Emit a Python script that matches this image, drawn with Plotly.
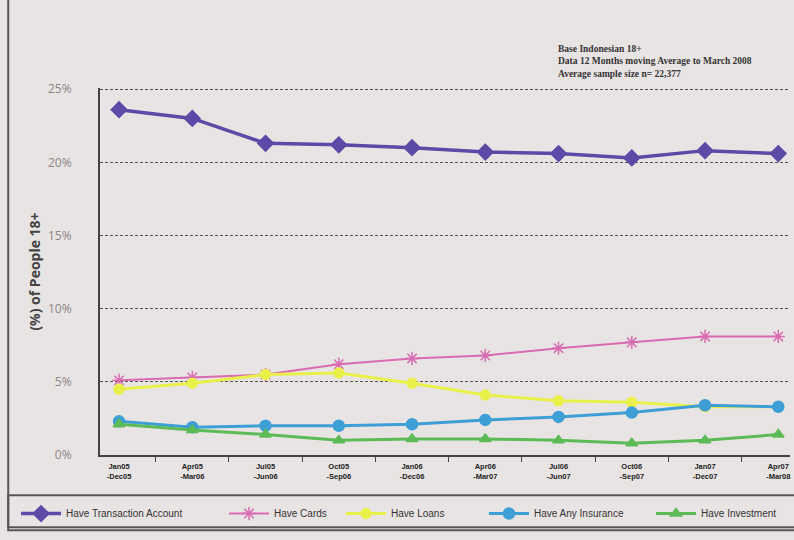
import plotly.graph_objects as go

periods = ["Jan05<br>-Dec05", "Apr05<br>-Mar06", "Jul05<br>-Jun06", "Oct05<br>-Sep06",
           "Jan06<br>-Dec06", "Apr06<br>-Mar07", "Jul06<br>-Jun07", "Oct06<br>-Sep07",
           "Jan07<br>-Dec07", "Apr07<br>-Mar08"]
transaction = [23.6, 23.0, 21.3, 21.2, 21.0, 20.7, 20.6, 20.3, 20.8, 20.6]
cards = [5.1, 5.3, 5.5, 6.2, 6.6, 6.8, 7.3, 7.7, 8.1, 8.1]
loans = [4.5, 4.9, 5.5, 5.6, 4.9, 4.1, 3.7, 3.6, 3.3, 3.3]
insurance = [2.3, 1.9, 2.0, 2.0, 2.1, 2.4, 2.6, 2.9, 3.4, 3.3]
investment = [2.1, 1.7, 1.4, 1.0, 1.1, 1.1, 1.0, 0.8, 1.0, 1.4]
y_ticks = [0, 5, 10, 15, 20, 25]
y_labels = ["0%", "5%", "10%", "15%", "20%", "25%"]

bg = "#e9e4e4"
fig = go.Figure()

series = [
    ("Have Transaction Account", transaction, "#5b4aa6", "diamond", 12, 3.5),
    ("Have Cards", cards, "#d86bb2", "asterisk-open", 11, 2),
    ("Have Loans", loans, "#eaf04a", "circle", 10, 3),
    ("Have Any Insurance", insurance, "#3d9fd6", "circle", 11, 3),
    ("Have Investment", investment, "#5dbb57", "triangle-up", 10, 3),
]
legend_ids = ["legend", "legend2", "legend3", "legend4", "legend5"]
legend_x = [-0.1217, 0.1797, 0.3493, 0.5565, 0.7986]

for (name, vals, col, sym, size, w), lid in zip(series, legend_ids):
    fig.add_trace(go.Scatter(
        x=periods, y=vals, name=name, mode="lines+markers", legend=lid,
        line=dict(color=col, width=w),
        marker=dict(symbol=sym, size=size, color=col, line=dict(color=col, width=1.5)),
    ))

legend_font = dict(family="Liberation Sans Narrow, Liberation Sans, Arial", size=10, color="#333")
legend_layout = {}
for lid, lx in zip(legend_ids, legend_x):
    legend_layout[lid] = dict(x=lx, xanchor="left", y=-0.120, yanchor="top",
                              orientation="h", font=legend_font,
                              bgcolor="rgba(0,0,0,0)", itemwidth=40)

fig.update_layout(
    width=794, height=540,
    margin=dict(l=100, r=4, t=88, b=85, autoexpand=False),
    paper_bgcolor=bg, plot_bgcolor=bg,
    showlegend=True,
    xaxis=dict(type="category", range=[-0.26, 9.16], showgrid=False,
               showline=True, linecolor="#444", linewidth=2,
               ticks="outside", tickson="boundaries", ticklen=5, tickcolor="#444",
               ticklabelstandoff=3,
               tickvals=periods, ticktext=["<b>" + p + "</b>" for p in periods],
               tickfont=dict(family="Liberation Sans Narrow, Liberation Sans, Arial", size=7.5, color="#222"),
               ),
    yaxis=dict(range=[0, 25.08], tickvals=y_ticks, ticktext=y_labels,
               showgrid=True, gridcolor="#555", griddash="3px,2px", gridwidth=1,
               showline=True, linecolor="#444", linewidth=2, zeroline=False,
               ticks="", ticklabelstandoff=24,
               tickfont=dict(family="Open Sans, Liberation Sans", size=12, color="#8a8686"),
               title=dict(text="<b>(%) of People 18+</b>", standoff=4,
                          font=dict(family="Open Sans, Liberation Sans", size=14, color="#444"))),
    **legend_layout,
)

# Outer frame and legend box
fig.add_shape(type="rect", xref="paper", yref="paper", x0=-0.133, x1=1.01, y0=-0.205, y1=1.3,
              line=dict(color="#555", width=2), fillcolor="rgba(0,0,0,0)", layer="below")
fig.add_shape(type="rect", xref="paper", yref="paper", x0=-0.133, x1=1.01, y0=-0.197, y1=-0.11,
              line=dict(color="#555", width=2), fillcolor="rgba(0,0,0,0)")

fig.add_annotation(xref="paper", yref="paper", x=0.661, y=1.125, xanchor="left", yanchor="top",
                   align="left", showarrow=False,
                   text="<b>Base Indonesian 18+<br>Data 12 Months moving Average to March 2008<br>Average sample size n= 22,377</b>",
                   font=dict(family="Liberation Serif, DejaVu Serif", size=9.5, color="#333"))

fig.write_html("out.html")
